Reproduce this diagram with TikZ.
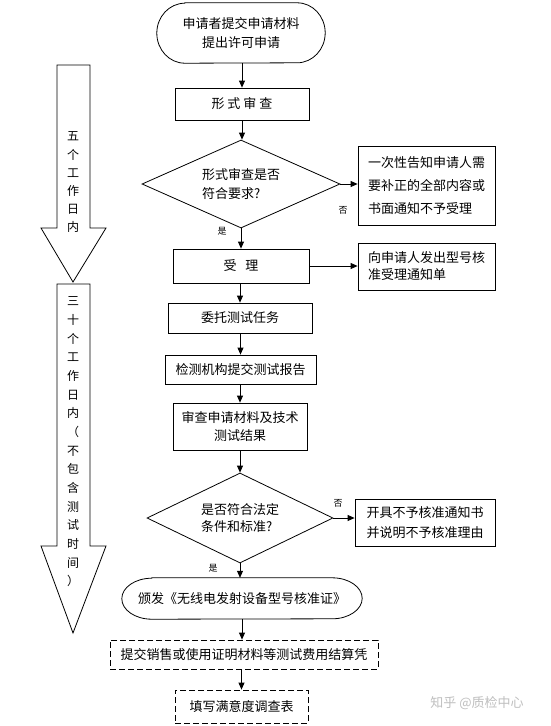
\documentclass[tikz,border=0pt]{standalone}
\usepackage{fontspec}
\setmainfont{Noto Sans CJK SC}
\usetikzlibrary{shapes.geometric,arrows.meta}
\begin{document}
\begin{tikzpicture}[x=1pt,y=-1pt,
  every node/.style={font=\fontsize{13}{19}\selectfont, inner sep=0pt},
  ln/.style={line width=0.8pt},
  box/.style={draw, line width=0.8pt},
  dbox/.style={draw, line width=0.8pt, dash pattern=on 6pt off 3pt},
  dia/.style={draw, line width=0.8pt, diamond, align=left},
  arr/.style={line width=0.8pt, -{Triangle[length=7pt,width=6pt]}},
  lbl/.style={font=\fontsize{9}{9}\selectfont},
  bigarrow/.style={draw, line width=0.8pt, fill=white},
  vtext/.style={align=center}
]
\path[use as bounding box, fill=white] (0,0) rectangle (550,726);

% left big arrows
\draw[bigarrow] (57,65) -- (90,65) -- (90,228) -- (106,228) -- (73,282) -- (41,228) -- (57,228) -- cycle;
\draw[bigarrow] (57,284) -- (90,284) -- (90,546) -- (106,546) -- (73,633) -- (41,546) -- (57,546) -- cycle;
\node[vtext, font=\fontsize{12}{18.2}\selectfont] (t1) at (73,182.5) {五\\个\\工\\作\\日\\内};
\node[vtext, font=\fontsize{12}{18.67}\selectfont] (t2) at (73,442) {三\\十\\个\\工\\作\\日\\内\\（\\不\\包\\含\\测\\试\\时\\间\\）};

% start terminal
\node[align=center, minimum width=168pt, minimum height=60pt] (start) at (241,33) {申请者提交申请材料\\提出许可申请};
\draw[ln] ([xshift=28pt]start.north west) -- ([xshift=-28pt]start.north east)
  arc[start angle=90, end angle=-90, x radius=28pt, y radius=30pt]
  -- ([xshift=28pt]start.south west)
  arc[start angle=270, end angle=90, x radius=28pt, y radius=30pt] -- cycle;

\node[box, minimum width=134pt, minimum height=32pt] (n2) at (242,104) {形\hspace{3pt}式\hspace{3pt}审\hspace{3pt}查};

\node[dia, aspect=2.25, minimum width=198pt, minimum height=88pt] (d1) at (241,184) {形式审查是否\\符合要求?};

\node[box, align=left, minimum width=137pt, minimum height=79pt, font=\fontsize{13}{23}\selectfont] (r1) at (426.5,185.5) {一次性告知申请人需\\要补正的全部内容或\\书面通知不予受理};

\node[box, minimum width=136pt, minimum height=34pt] (n3) at (241,266) {受\hspace{9pt}理};

\node[box, align=left, minimum width=137pt, minimum height=47pt, font=\fontsize{13}{17}\selectfont] (r2) at (426.5,266.5) {向申请人发出型号核\\准受理通知单};

\node[box, minimum width=144pt, minimum height=30pt] (n4) at (240,318) {委托测试任务};
\node[box, minimum width=151pt, minimum height=29pt] (n5) at (240.5,369.5) {检测机构提交测试报告};
\node[box, align=center, minimum width=134pt, minimum height=47pt, font=\fontsize{13}{18}\selectfont] (n6) at (240,426.5) {审查申请材料及技术\\测试结果};

\node[dia, aspect=2.07, minimum width=186pt, minimum height=90pt, font=\fontsize{13}{17}\selectfont] (d2) at (240,518) {是否符合法定\\条件和标准?};

\node[box, align=left, minimum width=140pt, minimum height=47pt, font=\fontsize{13}{20}\selectfont] (r3) at (425,522.5) {开具不予核准通知书\\并说明不予核准理由};

% issue terminal
\node[minimum width=240pt, minimum height=41pt] (n7) at (242,598.5) {颁发《无线电发射设备型号核准证》};
\draw[ln] ([xshift=30pt]n7.north west) -- ([xshift=-30pt]n7.north east)
  arc[start angle=90, end angle=-90, x radius=30pt, y radius=20.5pt]
  -- ([xshift=30pt]n7.south west)
  arc[start angle=270, end angle=90, x radius=30pt, y radius=20.5pt] -- cycle;

\node[dbox, minimum width=268pt, minimum height=29pt] (n8) at (244,654.5) {提交销售或使用证明材料等测试费用结算凭};
\node[dbox, minimum width=133pt, minimum height=33pt] (n9) at (241.5,706.5) {填写满意度调查表};

% connectors
\draw[arr] (start.south -| n2.north) -- (n2.north);
\draw[arr] (n2.south) -- (n2.south |- d1.north);
\draw[arr] (d1.east) -- (d1.east -| r1.west);
\draw[arr] (d1.south) -- (d1.south |- n3.north);
\draw[arr] (n3.east) -- (n3.east -| r2.west);
\draw[arr] (n3.south -| n4.north) -- (n4.north);
\draw[arr] (n4.south -| n5.north) -- (n5.north);
\draw[arr] (n5.south -| n6.north) -- (n6.north);
\draw[arr] (n6.south) -- (n6.south |- d2.north);
\draw[arr] (d2.east) -- (d2.east -| r3.west);
\draw[arr] (d2.south) -- (d2.south |- n7.north);
\draw[arr] (n7.south) -- (n7.south |- n8.north);
\draw[arr] (n8.south -| n9.north) -- (n9.north);

% labels
\node[lbl] (l1) at (343,210) {否};
\node[lbl] (l2) at (222,231) {是};
\node[lbl] (l3) at (338,503) {否};
\node[lbl] (l4) at (213,568) {是};

% watermark
\node[text=black!25] (wm) at (477,703) {知乎 @质检中心};
\end{tikzpicture}
\end{document}
